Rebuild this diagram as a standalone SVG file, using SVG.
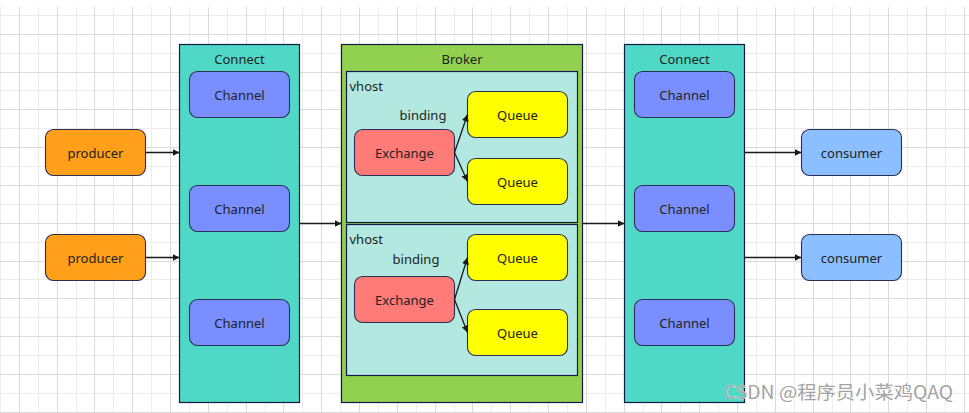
<svg xmlns="http://www.w3.org/2000/svg" width="969" height="413" viewBox="0 0 969 413">
<defs>
<style>
.minor{stroke:#ececec;stroke-width:1;fill:none}
.major{stroke:#dadada;stroke-width:1;fill:none}
.cont{stroke:#141a48;stroke-width:1.2}
.box{stroke:#2c2f55;stroke-width:1.1}
.t{font-family:"Noto Sans","Open Sans","DejaVu Sans",sans-serif;font-size:13px;fill:#222;text-anchor:middle}
.tl{font-family:"Noto Sans","Open Sans","DejaVu Sans",sans-serif;font-size:13px;fill:#222}
.edge{stroke:#1a1a1a;stroke-width:1.3;fill:none;marker-end:url(#ah)}
.wm{font-family:"Noto Sans CJK SC","Noto Sans",sans-serif;font-size:18px;fill:#a3a3a3;stroke:#ffffff;stroke-width:0.6;paint-order:stroke}
</style>
<marker id="ah" viewBox="0 0 10 10" refX="10" refY="5" markerWidth="7" markerHeight="7" markerUnits="userSpaceOnUse" orient="auto">
<path d="M0,0 L10,5 L0,10 z" fill="#1a1a1a"/>
</marker>
</defs>
<rect x="0" y="0" width="969" height="413" fill="#ffffff"/>
<g id="grid">
<path class="minor" d="M0.5,7V413M38.5,7V413M76.5,7V413M113.5,7V413M151.5,7V413M189.5,7V413M227.5,7V413M265.5,7V413M302.5,7V413M340.5,7V413M378.5,7V413M416.5,7V413M454.5,7V413M491.5,7V413M529.5,7V413M567.5,7V413M605.5,7V413M643.5,7V413M680.5,7V413M718.5,7V413M756.5,7V413M794.5,7V413M832.5,7V413M869.5,7V413M907.5,7V413M945.5,7V413M0,15.5H969M0,53.5H969M0,90.5H969M0,128.5H969M0,166.5H969M0,204.5H969M0,242.5H969M0,279.5H969M0,317.5H969M0,355.5H969M0,393.5H969"/>
<path class="major" d="M19.5,7V413M57.5,7V413M94.5,7V413M132.5,7V413M170.5,7V413M208.5,7V413M246.5,7V413M283.5,7V413M321.5,7V413M359.5,7V413M397.5,7V413M435.5,7V413M472.5,7V413M510.5,7V413M548.5,7V413M586.5,7V413M624.5,7V413M661.5,7V413M699.5,7V413M737.5,7V413M775.5,7V413M813.5,7V413M850.5,7V413M888.5,7V413M926.5,7V413M964.5,7V413M0,34.5H969M0,72.5H969M0,109.5H969M0,147.5H969M0,185.5H969M0,223.5H969M0,261.5H969M0,298.5H969M0,336.5H969M0,374.5H969M0,412.5H969"/>
</g>
<g id="connect-left">
<rect class="cont" x="179.5" y="44.5" width="120" height="358" fill="#4fd8c5"/>
<text class="t" x="239.5" y="64">Connect</text>
</g>
<g id="channel-l1"><rect class="box" x="189.5" y="71.5" width="100" height="46" rx="8" fill="#7a8fff"/><text class="t" x="239.5" y="100">Channel</text></g>
<g id="channel-l2"><rect class="box" x="189.5" y="185.5" width="100" height="46" rx="8" fill="#7a8fff"/><text class="t" x="239.5" y="214">Channel</text></g>
<g id="channel-l3"><rect class="box" x="189.5" y="299.5" width="100" height="46" rx="8" fill="#7a8fff"/><text class="t" x="239.5" y="328">Channel</text></g>
<g id="broker">
<rect class="cont" x="341.5" y="44.5" width="241" height="358" fill="#92d050"/>
<text class="t" x="462" y="64">Broker</text>
</g>
<g id="vhost1">
<rect class="cont" x="346.5" y="71.5" width="231" height="151" fill="#b2e8e0"/>
<text class="tl" x="349.5" y="91">vhost</text>
</g>
<g id="vhost2">
<rect class="cont" x="346.5" y="224.5" width="231" height="151" fill="#b2e8e0"/>
<text class="tl" x="349.5" y="243.5">vhost</text>
</g>
<g id="exchange1"><rect class="box" x="354.5" y="129.5" width="100" height="46" rx="8" fill="#ff7b77"/><text class="t" x="404.5" y="158">Exchange</text></g>
<g id="queue1"><rect class="box" x="467.5" y="91.5" width="100" height="46" rx="8" fill="#ffff00"/><text class="t" x="517.5" y="120">Queue</text></g>
<g id="queue2"><rect class="box" x="467.5" y="158.5" width="100" height="46" rx="8" fill="#ffff00"/><text class="t" x="517.5" y="187">Queue</text></g>
<g id="exchange2"><rect class="box" x="354.5" y="276.5" width="100" height="46" rx="8" fill="#ff7b77"/><text class="t" x="404.5" y="305">Exchange</text></g>
<g id="queue3"><rect class="box" x="467.5" y="234.5" width="100" height="46" rx="8" fill="#ffff00"/><text class="t" x="517.5" y="263">Queue</text></g>
<g id="queue4"><rect class="box" x="467.5" y="309.5" width="100" height="46" rx="8" fill="#ffff00"/><text class="t" x="517.5" y="338">Queue</text></g>
<g id="connect-right">
<rect class="cont" x="624.5" y="44.5" width="120" height="358" fill="#4fd8c5"/>
<text class="t" x="684.5" y="64">Connect</text>
</g>
<g id="channel-r1"><rect class="box" x="634.5" y="71.5" width="100" height="46" rx="8" fill="#7a8fff"/><text class="t" x="684.5" y="100">Channel</text></g>
<g id="channel-r2"><rect class="box" x="634.5" y="185.5" width="100" height="46" rx="8" fill="#7a8fff"/><text class="t" x="684.5" y="214">Channel</text></g>
<g id="channel-r3"><rect class="box" x="634.5" y="299.5" width="100" height="46" rx="8" fill="#7a8fff"/><text class="t" x="684.5" y="328">Channel</text></g>
<g id="producer1"><rect class="box" x="45.5" y="129.5" width="100" height="46" rx="8" fill="#ff9f1a"/><text class="t" x="95.5" y="158">producer</text></g>
<g id="producer2"><rect class="box" x="45.5" y="234.5" width="100" height="46" rx="8" fill="#ff9f1a"/><text class="t" x="95.5" y="263">producer</text></g>
<g id="consumer1"><rect class="box" x="801.5" y="129.5" width="100" height="46" rx="8" fill="#8bbfff"/><text class="t" x="851.5" y="158">consumer</text></g>
<g id="consumer2"><rect class="box" x="801.5" y="234.5" width="100" height="46" rx="8" fill="#8bbfff"/><text class="t" x="851.5" y="263">consumer</text></g>
<g id="connectors">
<path class="edge" d="M145.5,152.5H179.5"/>
<path class="edge" d="M145.5,257.5H179.5"/>
<path class="edge" d="M299.5,223.5H341.5"/>
<path class="edge" d="M582.5,223.5H624.5"/>
<path class="edge" d="M744.5,152.5H801.5"/>
<path class="edge" d="M744.5,257.5H801.5"/>
<path class="edge" d="M454.5,152.5L467.5,114.5"/>
<path class="edge" d="M454.5,152.5L467.5,181.5"/>
<path class="edge" d="M454.5,299.5L467.5,257.5"/>
<path class="edge" d="M454.5,299.5L467.5,332.5"/>
</g>
<g id="labels">
<text class="t" x="423" y="120">binding</text>
<text class="t" x="416" y="263.5">binding</text>
</g>
<text class="wm" x="724" y="399" textLength="229" lengthAdjust="spacingAndGlyphs">CSDN @程序员小菜鸡QAQ</text>
</svg>
